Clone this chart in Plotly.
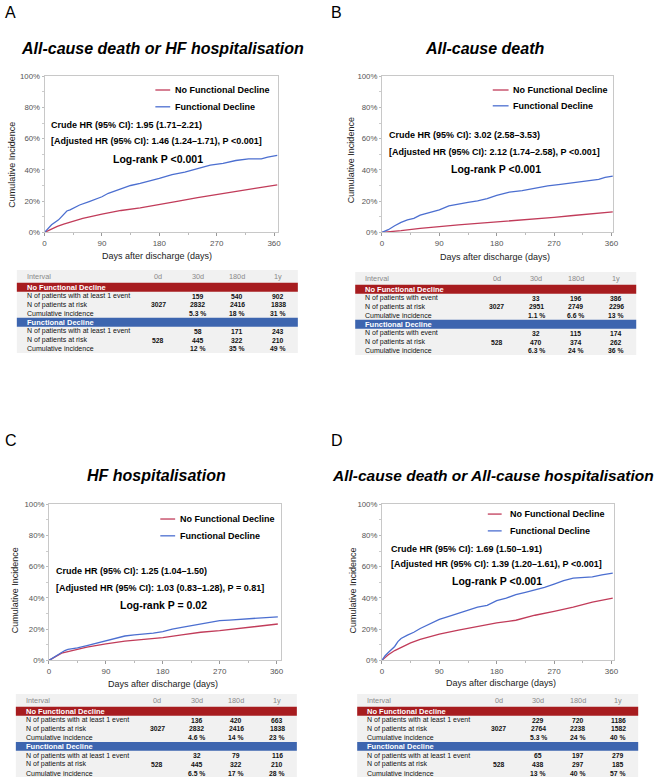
import plotly.graph_objects as go

W, H = 661, 784
FONT = "Liberation Sans, Arial, sans-serif"
RED = "#c13c5a"
BLUE = "#4c6fd0"
BAND_RED = "#a71c1f"
BAND_BLUE = "#3d65af"
TABLE_BG = "#f1f1f1"

# ---------------- data ----------------
series_names = ["No Functional Decline", "Functional Decline"]
col_labels = ["Interval", "0d", "30d", "180d", "1y"]
y_tick_vals = [0, 20, 40, 60, 80, 100]
y_tick_text = ["0%", "20%", "40%", "60%", "80%", "100%"]
x_tick_vals = [0, 90, 180, 270, 360]

titles = ["All-cause death or HF hospitalisation", "All-cause death",
          "HF hospitalisation", "All-cause death or All-cause hospitalisation"]
letters = ["A", "B", "C", "D"]

crude = ["Crude HR (95% CI): 1.95 (1.71–2.21)", "Crude HR (95% CI): 3.02 (2.58–3.53)",
         "Crude HR (95% CI): 1.25 (1.04–1.50)", "Crude HR (95% CI): 1.69 (1.50–1.91)"]
adjusted = ["[Adjusted HR (95% CI): 1.46 (1.24–1.71), P <0.001]",
            "[Adjusted HR (95% CI): 2.12 (1.74–2.58), P <0.001]",
            "[Adjusted HR (95% CI): 1.03 (0.83–1.28), P = 0.81]",
            "[Adjusted HR (95% CI): 1.39 (1.20–1.61), P <0.001]"]
logrank = ["Log-rank P <0.001", "Log-rank P <0.001", "Log-rank P = 0.02", "Log-rank P <0.001"]

A_nfd_days = [0, 10, 20, 30, 45, 60, 90, 120, 150, 180, 210, 240, 270, 300, 330, 365]
A_nfd_inc = [0, 2.1, 3.8, 5.3, 7.0, 8.9, 11.6, 14.0, 15.6, 18.0, 20.0, 22.2, 24.3, 26.4, 28.1, 30.4]
A_fd_days = [0, 5, 11, 22, 30, 35, 40, 55, 70, 90, 100, 120, 135, 150, 165, 180, 200, 220,
             240, 260, 280, 300, 320, 340, 350, 365]
A_fd_inc = [0, 2.5, 4.9, 8.0, 11.5, 13.7, 14.4, 17.5, 19.7, 22.8, 25.0, 28.0, 30.0, 31.3, 32.8,
            34.5, 37.0, 38.5, 40.8, 43.0, 44.2, 46.0, 47.0, 47.1, 48.2, 49.3]

B_nfd_days = [0, 15, 30, 60, 90, 120, 150, 180, 210, 240, 270, 300, 330, 362]
B_nfd_inc = [0, 0.5, 1.1, 2.5, 3.8, 4.8, 5.7, 6.6, 7.6, 8.6, 9.6, 10.8, 12.0, 13.1]
B_fd_days = [0, 10, 20, 30, 40, 50, 60, 75, 90, 105, 120, 135, 150, 165, 180, 200, 220, 240,
             260, 280, 300, 320, 340, 350, 362]
B_fd_inc = [0, 1.7, 4.2, 6.4, 8.0, 8.9, 11.0, 12.7, 14.4, 17.0, 18.3, 19.2, 20.1, 21.6, 23.7,
            25.8, 26.7, 28.2, 29.7, 30.7, 31.8, 32.6, 33.9, 35.2, 36.0]

C_nfd_days = [0, 10, 20, 30, 45, 60, 90, 120, 150, 180, 210, 240, 270, 300, 330, 362]
C_nfd_inc = [0, 2.2, 4.6, 5.6, 7.2, 8.5, 10.6, 12.3, 13.5, 14.6, 16.3, 18.0, 19.0, 20.5, 21.6, 23.3]
C_fd_days = [0, 10, 20, 25, 30, 45, 60, 75, 90, 105, 120, 135, 150, 165, 180, 195, 210, 225,
             240, 255, 270, 285, 300, 315, 330, 345, 362]
C_fd_inc = [0, 2.5, 5.5, 6.3, 7.0, 8.0, 9.5, 11.0, 12.3, 14.2, 15.6, 16.3, 16.7, 17.5, 18.4,
            20.0, 21.1, 22.2, 23.3, 24.5, 25.4, 25.8, 26.2, 26.3, 26.6, 27.3, 27.9]

D_nfd_days = [0, 10, 20, 30, 45, 60, 90, 120, 150, 180, 210, 240, 270, 300, 330, 362]
D_nfd_inc = [0, 3.6, 6.3, 8.2, 11.2, 13.5, 16.8, 19.4, 21.9, 24.0, 25.7, 28.9, 31.4, 34.1, 37.3, 39.8]
D_fd_days = [0, 5, 10, 20, 25, 30, 40, 50, 60, 75, 90, 105, 120, 135, 150, 165, 180, 195, 210,
             225, 240, 255, 270, 285, 300, 315, 330, 345, 362]
D_fd_inc = [0, 3.0, 5.0, 8.9, 12.0, 14.0, 16.2, 18.0, 20.4, 23.6, 26.3, 28.2, 30.3, 32.0, 34.1,
            35.2, 38.3, 39.8, 42.1, 43.6, 45.0, 46.7, 48.8, 51.0, 52.6, 53.0, 53.5, 54.7, 55.8]

row_labels_event = ["N of patients with at least 1 event", "N of patients with event",
                    "N of patients with at least 1 event", "N of patients with at least 1 event"]
row_label_risk = "N of patients at risk"
row_label_cum = "Cumulative incidence"

A_nfd_table = [["", "159", "540", "902"], ["3027", "2832", "2416", "1838"], ["", "5.3 %", "18 %", "31 %"]]
A_fd_table = [["", "58", "171", "243"], ["528", "445", "322", "210"], ["", "12 %", "35 %", "49 %"]]
B_nfd_table = [["", "33", "196", "386"], ["3027", "2951", "2749", "2296"], ["", "1.1 %", "6.6 %", "13 %"]]
B_fd_table = [["", "32", "115", "174"], ["528", "470", "374", "262"], ["", "6.3 %", "24 %", "36 %"]]
C_nfd_table = [["", "136", "420", "663"], ["3027", "2832", "2416", "1838"], ["", "4.6 %", "14 %", "23 %"]]
C_fd_table = [["", "32", "79", "116"], ["528", "445", "322", "210"], ["", "6.5 %", "17 %", "28 %"]]
D_nfd_table = [["", "229", "720", "1186"], ["3027", "2764", "2238", "1582"], ["", "5.3 %", "24 %", "40 %"]]
D_fd_table = [["", "65", "197", "279"], ["528", "438", "297", "185"], ["", "13 %", "40 %", "57 %"]]

curves = [
    ((A_nfd_days, A_nfd_inc), (A_fd_days, A_fd_inc)),
    ((B_nfd_days, B_nfd_inc), (B_fd_days, B_fd_inc)),
    ((C_nfd_days, C_nfd_inc), (C_fd_days, C_fd_inc)),
    ((D_nfd_days, D_nfd_inc), (D_fd_days, D_fd_inc)),
]
tables = [(A_nfd_table, A_fd_table), (B_nfd_table, B_fd_table),
          (C_nfd_table, C_fd_table), (D_nfd_table, D_fd_table)]

# ---------------- layout (pixel positions) ----------------
L = [
    dict(letter=(2, 9), title=(162, 45), tsize=16, x0=43, x360=275, x1=279, ytop=73, ybot=231,
         leg=(155, 170, 174, 87, 104), hr=(49, 122.7, 139), lr=(158, 156.7),
         ytitle=(10.7, 163), xtitle=(157, 255), table=(15, 269)),
    dict(letter=(332, 9), title=(488, 45), tsize=16, x0=384, x360=616, x1=618, ytop=73, ybot=231,
         leg=(496, 512, 515, 87, 103), hr=(390, 133, 150), lr=(499, 167),
         ytitle=(352.7, 158), xtitle=(498, 256), table=(357, 271)),
    dict(letter=(2, 442), title=(156, 477), tsize=16, x0=47.5, x360=277.5, x1=282, ytop=506, ybot=664,
         leg=(160, 175, 179, 521, 538), hr=(54, 574, 591), lr=(163, 608),
         ytitle=(13.3, 593), xtitle=(163, 688), table=(14, 698)),
    dict(letter=(332, 442), title=(496.5, 477), tsize=15.5, x0=384, x360=616, x1=619, ytop=506, ybot=664,
         leg=(491, 505, 512, 516, 533), hr=(392, 551, 567), lr=(500, 584),
         ytitle=(355, 593), xtitle=(504, 687), table=(359, 698)),
]


def px(x):
    return x / W


def py(y):
    return 1 - y / H


fig = go.Figure()
annotations = []
shapes = []
layout_axes = {}


def text(x, y, s, size, color="black", bold=False, italic=False, xanchor="left", angle=0):
    t = s
    if bold:
        t = "<b>" + t + "</b>"
    if italic:
        t = "<i>" + t + "</i>"
    annotations.append(dict(x=px(x), y=py(y), xref="paper", yref="paper", text=t,
                            showarrow=False, xanchor=xanchor, yanchor="middle",
                            textangle=angle, borderpad=0,
                            font=dict(family=FONT, size=size, color=color)))


for i, cfg in enumerate(L):
    n = "" if i == 0 else str(i + 1)
    xmax = 360 * (cfg["x1"] - cfg["x0"]) / (cfg["x360"] - cfg["x0"])
    layout_axes["xaxis" + n] = dict(
        domain=[px(cfg["x0"]), px(cfg["x1"])], anchor="y" + n, range=[0, xmax],
        tickvals=x_tick_vals, showgrid=False, zeroline=False,
        showline=True, linecolor="#c8c8c8", linewidth=1, mirror=True,
        ticks="outside", ticklen=3, tickcolor="#999",
        minor=dict(tickvals=[45, 135, 225, 315], ticks="outside", ticklen=2, tickcolor="#bbb"),
        tickfont=dict(family=FONT, size=8, color="#555"),
    )
    layout_axes["yaxis" + n] = dict(
        domain=[py(cfg["ybot"]), py(cfg["ytop"])], anchor="x" + n, range=[0, 100],
        tickvals=y_tick_vals, ticktext=y_tick_text, showgrid=False, zeroline=False,
        showline=True, linecolor="#c8c8c8", linewidth=1, mirror=True,
        ticks="outside", ticklen=2, tickcolor="#bbb",
        minor=dict(tickvals=[10, 30, 50, 70, 90], ticks="outside", ticklen=2, tickcolor="#ccc"),
        tickfont=dict(family=FONT, size=7.8, color="#555"),
    )
    (nd, ni), (fd, fi) = curves[i]
    fig.add_trace(go.Scatter(x=nd, y=ni, mode="lines", line=dict(color=RED, width=1.3),
                             xaxis="x" + n, yaxis="y" + n, name=series_names[0], showlegend=False))
    fig.add_trace(go.Scatter(x=fd, y=fi, mode="lines", line=dict(color=BLUE, width=1.3),
                             xaxis="x" + n, yaxis="y" + n, name=series_names[1], showlegend=False))

    # letter and title
    text(cfg["letter"][0], cfg["letter"][1], letters[i], 16)
    text(cfg["title"][0], cfg["title"][1], titles[i], cfg["tsize"], bold=True, italic=True,
         xanchor="center")

    # legend
    s0, s1, tx, yr, yb = cfg["leg"]
    for yy, col, nm in ((yr, RED, series_names[0]), (yb, BLUE, series_names[1])):
        shapes.append(dict(type="line", xref="paper", yref="paper", x0=px(s0), x1=px(s1),
                           y0=py(yy), y1=py(yy), line=dict(color=col, width=1.3)))
        text(tx, yy, nm, 9, bold=True)

    # HR texts
    hx, hy1, hy2 = cfg["hr"]
    text(hx, hy1, crude[i], 9, bold=True)
    text(hx, hy2, adjusted[i], 9, bold=True)
    text(cfg["lr"][0], cfg["lr"][1], logrank[i], 10.5, bold=True, xanchor="center")

    # axis titles
    text(cfg["ytitle"][0], cfg["ytitle"][1], "Cumulative Incidence", 9, color="#222",
         xanchor="center", angle=-90)
    text(cfg["xtitle"][0], cfg["xtitle"][1], "Days after discharge (days)", 9, color="#222",
         xanchor="center")

    # table
    tl, tt = cfg["table"]
    shapes.append(dict(type="rect", xref="paper", yref="paper", x0=px(tl), x1=px(tl + 284),
                       y0=py(min(tt + 84, H)), y1=py(tt), fillcolor=TABLE_BG, line=dict(width=0),
                       layer="below"))
    col_x = [tl + 9, tl + 143, tl + 183, tl + 223, tl + 264]
    text(col_x[0], tt + 7, col_labels[0], 7.3, color="#8a8a8a")
    for c in range(1, 5):
        text(col_x[c], tt + 7, col_labels[c], 7.3, color="#8a8a8a", xanchor="center")
    bands = [(tt + 13, tt + 22, BAND_RED, series_names[0], [tt + 26.5, tt + 35.3, tt + 44]),
             (tt + 48.5, tt + 57.5, BAND_BLUE, series_names[1], [tt + 62.3, tt + 71.3, tt + 80])]
    row_labels = [row_labels_event[i], row_label_risk, row_label_cum]
    for b, (b0, b1, bc, bname, rows_y) in enumerate(bands):
        shapes.append(dict(type="rect", xref="paper", yref="paper", x0=px(tl), x1=px(tl + 284),
                           y0=py(b1), y1=py(b0), fillcolor=bc, line=dict(width=0)))
        text(col_x[0], (b0 + b1) / 2, bname, 7.5, color="white", bold=True)
        tbl = tables[i][b]
        for r, ry in enumerate(rows_y):
            text(col_x[0], ry, row_labels[r], 7, color="#111")
            for c in range(4):
                v = tbl[r][c]
                if v:
                    text(col_x[c + 1], ry, v, 6.8, color="#111", bold=True, xanchor="center")

fig.update_layout(
    width=W, height=H, autosize=False,
    margin=dict(l=0, r=0, t=0, b=0),
    paper_bgcolor="white", plot_bgcolor="white",
    showlegend=False,
    annotations=annotations, shapes=shapes,
    font=dict(family=FONT),
    **layout_axes,
)

fig.write_html("out.html", config={"displayModeBar": False},
               post_script="document.body.style.margin='0';document.body.style.overflow='hidden';")
